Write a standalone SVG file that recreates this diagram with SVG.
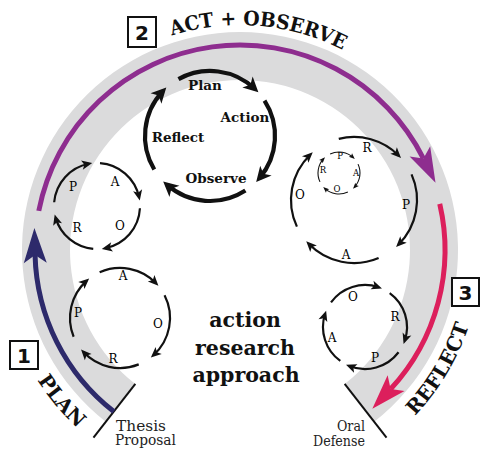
<svg xmlns="http://www.w3.org/2000/svg" width="481" height="449" viewBox="0 0 481 449">
<defs>
<style>
.arc{fill:none;stroke:#111;stroke-width:2.2;marker-end:url(#as)}
.big{fill:none;stroke:#111;stroke-width:4.2;marker-end:url(#ab)}
.tiny{fill:none;stroke:#111;stroke-width:1.1;marker-end:url(#at)}
.lbl{font-family:"DejaVu Serif",serif;font-size:12px;fill:#000;text-anchor:middle;dominant-baseline:central}
.tl{font-family:"DejaVu Serif",serif;font-size:8.5px;fill:#000;text-anchor:middle;dominant-baseline:central}
.bl{font-family:"DejaVu Serif",serif;font-weight:bold;font-size:13.5px;fill:#111;text-anchor:middle}
.ctr{font-family:"DejaVu Serif",serif;font-weight:bold;font-size:20.5px;fill:#111;text-anchor:middle}
.hd{font-family:"DejaVu Serif",serif;font-weight:bold;font-size:20px;fill:#111}
.num{font-family:"DejaVu Sans",sans-serif;font-weight:bold;font-size:20px;fill:#111;text-anchor:middle;dominant-baseline:central}
.box{fill:#fff;stroke:#111;stroke-width:2}
.cap{font-family:"DejaVu Serif",serif;font-size:14px;fill:#222}
.tick{stroke:#111;stroke-width:2}
</style>
<marker id="as" viewBox="-8 -5 12 10" markerWidth="12" markerHeight="10" markerUnits="userSpaceOnUse" refX="0" refY="0" orient="auto"><path d="M3.5,0 L-7,-4.6 L-4.5,0 L-7,4.6Z" fill="#111"/></marker>
<marker id="at" viewBox="-5 -3 8 6" markerWidth="8" markerHeight="6" markerUnits="userSpaceOnUse" refX="0" refY="0" orient="auto"><path d="M2,0 L-4,-2.4 L-2.8,0 L-4,2.4Z" fill="#111"/></marker>
<marker id="ab" viewBox="-11 -8 17 16" markerWidth="17" markerHeight="16" markerUnits="userSpaceOnUse" refX="0" refY="0" orient="auto"><path d="M5,0 L-10,-7.5 L-6,0 L-10,7.5Z" fill="#111"/></marker>
<marker id="an" viewBox="-9 -12 37 24" markerWidth="37" markerHeight="24" markerUnits="userSpaceOnUse" refX="0" refY="0" orient="auto"><path d="M27,0 L-8,-11.5 L0,0 L-8,11.5Z" fill="#2d2a6b"/></marker>
<marker id="ap" viewBox="-9 -12 37 24" markerWidth="37" markerHeight="24" markerUnits="userSpaceOnUse" refX="0" refY="0" orient="auto"><path d="M27,0 L-8,-11.5 L0,0 L-8,11.5Z" fill="#8e2d8f"/></marker>
<marker id="ar" viewBox="-9 -12 37 24" markerWidth="37" markerHeight="24" markerUnits="userSpaceOnUse" refX="0" refY="0" orient="auto"><path d="M27,0 L-8,-11.5 L0,0 L-8,11.5Z" fill="#dc1f5c"/></marker>
<path id="topPath" d="M15,250 A225,225 0 0 1 465,250" fill="none"/>
<path id="botPath" d="M7.21,312.37 A241,241 0 0 0 477.34,291.85" fill="none"/>
</defs>
<rect width="481" height="449" fill="#fff"/>

<g id="band">
<path d="M105.79,421.79 A218,218 0 1 1 374.21,421.79 L344.66,383.96 A170,170 0 1 0 135.34,383.96 Z" fill="#dbdbdc"/>
<line class="tick" x1="135.34" y1="383.96" x2="93.47" y2="437.55"/>
<line class="tick" x1="344.66" y1="383.96" x2="386.53" y2="437.55"/>
</g>

<g id="connectors">
<path d="M113.79,411.54 A205,205 0 0 1 35.06,255" fill="none" stroke="#2d2a6b" stroke-width="5" marker-end="url(#an)"/>
<path d="M38.77,210.88 A205,205 0 0 1 423.45,158.53" fill="none" stroke="#8e2d8f" stroke-width="5" marker-end="url(#ap)"/>
<path d="M439.75,203.89 A205,205 0 0 1 390.65,389.03" fill="none" stroke="#dc1f5c" stroke-width="5" marker-end="url(#ar)"/>
</g>

<g id="phase-plan">
<rect class="box" x="10" y="341" width="28" height="28"/>
<text class="num" x="24" y="356">1</text>
<text class="hd" font-size="21"><textPath href="#botPath" startOffset="106" text-anchor="middle">PLAN</textPath></text>
<text class="cap" x="116" y="430.5" textLength="50" lengthAdjust="spacingAndGlyphs">Thesis</text>
<text class="cap" x="115" y="445" textLength="61" lengthAdjust="spacingAndGlyphs">Proposal</text>
</g>

<g id="phase-act">
<rect class="box" x="128" y="17" width="28" height="30"/>
<text class="num" x="142" y="33">2</text>
<text class="hd"><textPath href="#topPath" startOffset="372" text-anchor="middle" textLength="176" lengthAdjust="spacingAndGlyphs">ACT + OBSERVE</textPath></text>
</g>

<g id="phase-reflect">
<rect class="box" x="452" y="278" width="27" height="28"/>
<text class="num" x="465.5" y="293">3</text>
<text class="hd" font-size="21"><textPath href="#botPath" startOffset="564" text-anchor="middle">REFLECT</textPath></text>
<text class="cap" x="365" y="431" text-anchor="end" textLength="28" lengthAdjust="spacingAndGlyphs">Oral</text>
<text class="cap" x="365" y="445.5" text-anchor="end" textLength="52" lengthAdjust="spacingAndGlyphs">Defense</text>
</g>

<g id="cycle-main">
<path class="big" d="M178.49,79.15 A65,65 0 0 1 254.75,88.85"/>
<path class="big" d="M264.51,100.6 A65,65 0 0 1 259.43,178.21"/>
<path class="big" d="M245.4,190.52 A65,65 0 0 1 166.93,184.69"/>
<path class="big" d="M154.28,169.48 A65,65 0 0 1 162.85,91.25"/>
<text class="bl" x="205" y="90">Plan</text>
<text class="bl" x="245" y="122">Action</text>
<text class="bl" x="178" y="142">Reflect</text>
<text class="bl" x="216" y="183">Observe</text>
</g>

<g id="cycle-a">
<path class="arc" d="M100,163.1 A43,43 0 0 1 139.06,197.06"/>
<path class="arc" d="M139.94,208.25 A43,43 0 0 1 105.2,248.21"/>
<path class="arc" d="M93.25,248.84 A43,43 0 0 1 55.66,217.85"/>
<path class="arc" d="M54.16,202.25 A43,43 0 0 1 88.8,163.79"/>
<text class="lbl" x="73" y="187">P</text>
<text class="lbl" x="115" y="182">A</text>
<text class="lbl" x="120" y="226">O</text>
<text class="lbl" x="77" y="228">R</text>
</g>

<g id="cycle-b">
<path class="arc" d="M99.66,272.32 A50,50 0 0 1 155.97,283.27"/>
<path class="arc" d="M164.55,295.3 A50,50 0 0 1 153.46,355.16"/>
<path class="arc" d="M138.73,364.36 A50,50 0 0 1 83.43,352.1"/>
<path class="arc" d="M73.64,336.73 A50,50 0 0 1 86.54,280.84"/>
<text class="lbl" x="123" y="276">A</text>
<text class="lbl" x="158" y="324">O</text>
<text class="lbl" x="113" y="359">R</text>
<text class="lbl" x="78" y="313">P</text>
</g>

<g id="cycle-c">
<path class="arc" d="M338.76,138.87 A63,63 0 0 1 398.55,155.45"/>
<path class="arc" d="M411.55,174.38 A63,63 0 0 1 398.55,244.55"/>
<path class="arc" d="M378.61,257.99 A63,63 0 0 1 308.68,243.77"/>
<path class="arc" d="M296.9,226.62 A63,63 0 0 1 310.23,154.68"/>
<text class="lbl" x="367" y="148">R</text>
<text class="lbl" x="406" y="205">P</text>
<text class="lbl" x="346" y="255">A</text>
<text class="lbl" x="300" y="195">O</text>
</g>

<g id="cycle-tiny">
<path class="tiny" d="M330.13,153.97 A21,21 0 0 1 353.32,157.64"/>
<path class="tiny" d="M358.03,164.13 A21,21 0 0 1 354.36,187.32"/>
<path class="tiny" d="M347.87,192.03 A21,21 0 0 1 324.68,188.36"/>
<path class="tiny" d="M319.97,181.87 A21,21 0 0 1 323.64,158.68"/>
<text class="tl" x="340" y="156">P</text>
<text class="tl" x="356" y="173">A</text>
<text class="tl" x="337" y="189">O</text>
<text class="tl" x="323" y="170">R</text>
</g>

<g id="cycle-d">
<path class="arc" d="M331.02,302.31 A42,42 0 0 1 378.67,287.29"/>
<path class="arc" d="M389.69,293.02 A42,42 0 0 1 404.71,340.68"/>
<path class="arc" d="M398.54,352.28 A42,42 0 0 1 349.27,365.94"/>
<path class="arc" d="M340.31,360.98 A42,42 0 0 1 325.05,314.02"/>
<text class="lbl" x="353" y="297">O</text>
<text class="lbl" x="395" y="317">R</text>
<text class="lbl" x="375" y="358">P</text>
<text class="lbl" x="332" y="338">A</text>
</g>

<g id="title">
<text class="ctr" x="245" y="327">action</text>
<text class="ctr" x="245" y="355">research</text>
<text class="ctr" x="246" y="382">approach</text>
</g>
</svg>
